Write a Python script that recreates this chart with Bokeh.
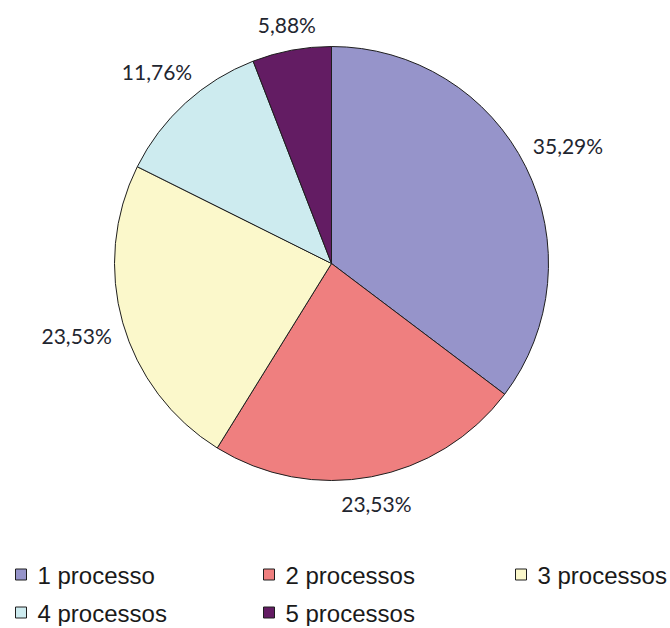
import math
from bokeh.plotting import figure
from bokeh.models import Range1d, ColumnDataSource
from bokeh.core.properties import value
from bokeh.embed import file_html
from bokeh.resources import INLINE

# ---- data ----
categories = ["1 processo", "2 processos", "3 processos", "4 processos", "5 processos"]
shares = [35.29, 23.53, 23.53, 11.76, 5.88]
pct_labels = ["35,29%", "23,53%", "23,53%", "11,76%", "5,88%"]
colors = ["#9694CA", "#EF7F7F", "#FBF8CB", "#CDEBEF", "#631C63"]

# ---- layout (picture pixel coordinates; data y = H - screen y) ----
W, H = 668, 626
def Y(sy):
    return H - sy

cx, cy_s, r = 331, 263, 217
cy = Y(cy_s)

p = figure(width=W, height=H, x_range=Range1d(0, W), y_range=Range1d(0, H),
           output_backend="svg", toolbar_location=None,
           x_axis_location=None, y_axis_location=None, min_border=0)
p.grid.visible = False
p.outline_line_color = None
p.background_fill_color = "white"
p.border_fill_color = "white"

total = sum(shares)
starts, ends, lx, ly = [], [], [], []
cum = 0.0
for s, lab in zip(shares, pct_labels):
    a0 = 2 * math.pi * cum / total
    cum += s
    a1 = 2 * math.pi * cum / total
    starts.append(math.pi / 2 - a0)
    ends.append(math.pi / 2 - a1)
    mid = (a0 + a1) / 2
    dx, dy = math.sin(mid), math.cos(mid)
    halfw = len(lab) * 5.8
    d = r + 12 + halfw * abs(dx) + 9 * abs(dy)
    lx.append(cx + d * dx)
    ly.append(cy + d * dy)

src = ColumnDataSource(dict(start=starts, end=ends, color=colors, cat=categories))
p.wedge(x=cx, y=cy, radius=r, start_angle="start", end_angle="end", direction="clock",
        fill_color="color", line_color="#1e1e1e", line_width=1, source=src)

p.text(x=lx, y=ly, text=pct_labels, text_align="center", text_baseline="middle",
       text_font=value("Lato"), text_font_size="21px", text_color="#1f2630")

# ---- legend ----
col_sq = [15, 263, 515]
row_y = [574, 612]
leg_x, leg_y, leg_tx, leg_ty = [], [], [], []
for i, c in enumerate(categories):
    row, col = divmod(i, 3)
    leg_x.append(col_sq[col] + 5.5)
    leg_y.append(Y(row_y[row]))
    leg_tx.append(col_sq[col] + 22)
    leg_ty.append(Y(row_y[row] + 1))

p.rect(x=leg_x, y=leg_y, width=11, height=11, fill_color=colors,
       line_color="#1e1e1e", line_width=1)
p.text(x=leg_tx, y=leg_ty, text=categories, text_align="left", text_baseline="middle",
       text_font=value("Liberation Sans"), text_font_size="24px", text_color="#1a1a1a")

open("out.html", "w").write(file_html(p, INLINE))
